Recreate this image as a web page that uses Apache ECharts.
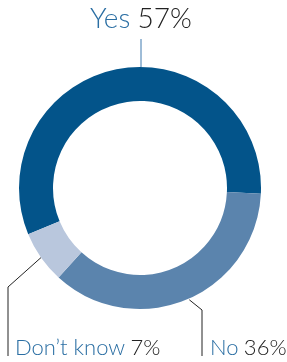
<!DOCTYPE html>
<html lang="en">
<head>
    <meta charset="UTF-8">
    <title>Survey donut</title>
    <script src="https://cdn.jsdelivr.net/npm/echarts@6/dist/echarts.min.js"></script>
</head>
<style type="text/css">
    body{
        margin:0;
    }
    .donut-chart{
        width: 287px;
        height: 362px;
    }
</style>
<body>
    <div class="donut-chart"></div>
</body>
<script type="text/javascript">
var answers = ['Yes', 'No', 'Don\u2019t know'];
var shares = [57, 36, 7];
var colors = ['#03548a', '#5b84ad', '#b9c7dd'];

var cx = 140, cy = 188, rIn = 87, rOut = 121;

// where each label sits, and the foot of its leader line
var labelSpots = [
    { x: 141, y: 19, align: 'center', size: 28, gap: 4, lineColor: '#3f7bb0' },
    { x: 210, y: 348, align: 'left', size: 22, gap: 2, lineColor: '#222' },
    { x: 15, y: 348, align: 'left', size: 22, gap: 2, lineColor: '#222' }
];

function richFor(spot) {
    return {
        a: { fontFamily: 'Lato', fontWeight: 300, color: '#2a6ea3', fontSize: spot.size },
        b: { fontFamily: 'Lato', fontWeight: 300, color: '#222', fontSize: spot.size, padding: [0, 0, 0, spot.gap] }
    };
}

var myChart = echarts.init(document.querySelector('.donut-chart'));

myChart.setOption({
    animation: false,
    series: [{
        type: 'pie',
        center: [cx, cy],
        radius: [rIn, rOut],
        startAngle: 202.5,
        clockwise: true,
        silent: true,
        emphasis: { disabled: true },
        data: answers.map(function (name, i) {
            return {
                name: name,
                value: shares[i],
                itemStyle: { color: colors[i] },
                label: { rich: richFor(labelSpots[i]) },
                labelLine: { lineStyle: { color: labelSpots[i].lineColor, width: 1 } }
            };
        }),
        label: {
            show: true,
            overflow: 'none',
            width: 300,
            edgeDistance: 0,
            formatter: function (p) {
                return '{a|' + p.name + '} {b|' + p.value + '%}';
            }
        },
        labelLine: { show: true, length: 10, length2: 10 },
        labelLayout: function (params) {
            var i = params.dataIndex;
            var s = labelSpots[i];
            var start = params.labelLinePoints ? params.labelLinePoints[0] : [cx, cy - rOut];
            var pts;
            if (i === 0) {
                pts = [[s.x, cy - rOut], [s.x, 50], [s.x, 39]];
            } else if (i === 1) {
                pts = [[start[0] + 3, start[1]], [s.x - 8, 310], [s.x - 8, 356]];
            } else {
                pts = [start, [s.x - 7, 287], [s.x - 7, 356]];
            }
            return {
                x: s.x,
                y: s.y,
                align: s.align,
                verticalAlign: 'middle',
                labelLinePoints: pts
            };
        }
    }]
});
</script>
</html>
